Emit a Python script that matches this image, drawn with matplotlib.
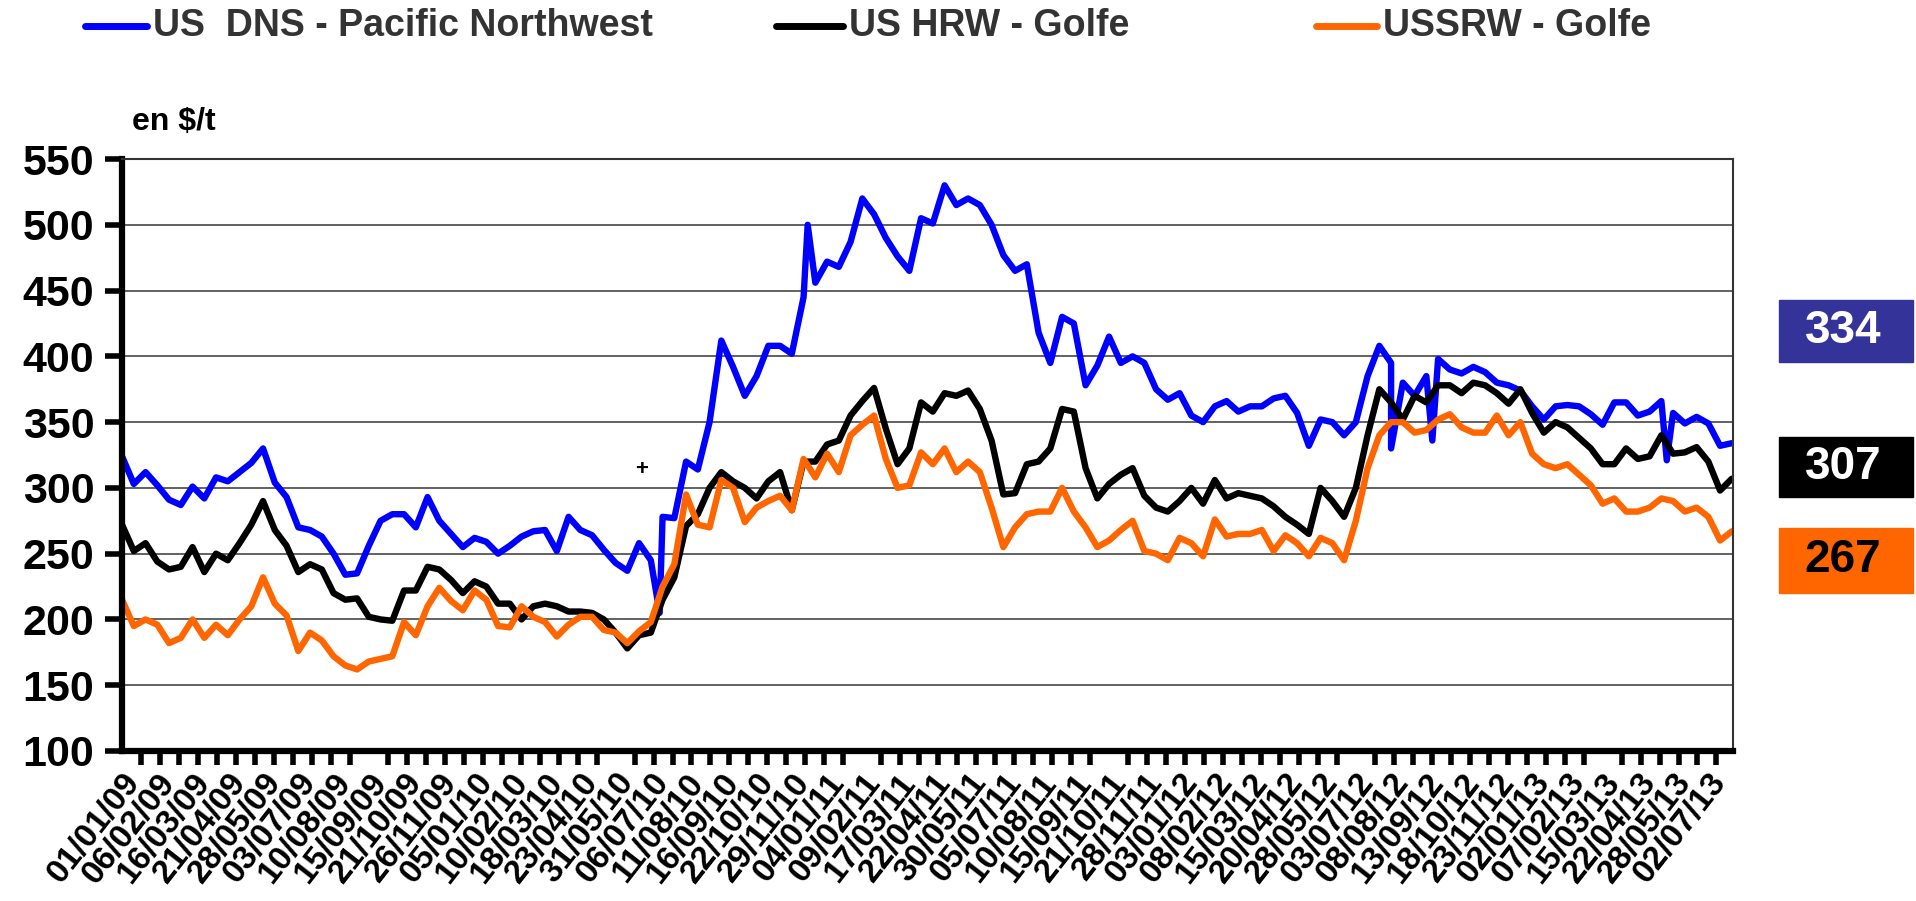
import numpy as np
import matplotlib.pyplot as plt
from matplotlib.lines import Line2D
from matplotlib.patches import Rectangle

plt.rcParams['font.family'] = ['Liberation Sans', 'DejaVu Sans']
plt.rcParams['font.weight'] = 'bold'

# tick labels (one every 26 quotes)
dates = ['01/01/09', '06/02/09', '16/03/09', '21/04/09', '28/05/09', '03/07/09',
         '10/08/09', '15/09/09', '21/10/09', '26/11/09', '05/01/10', '10/02/10',
         '18/03/10', '23/04/10', '31/05/10', '06/07/10', '11/08/10', '16/09/10',
         '22/10/10', '29/11/10', '04/01/11', '09/02/11', '17/03/11', '22/04/11',
         '30/05/11', '05/07/11', '10/08/11', '15/09/11', '21/10/11', '28/11/11',
         '03/01/12', '08/02/12', '15/03/12', '20/04/12', '28/05/12', '03/07/12',
         '08/08/12', '13/09/12', '18/10/12', '23/11/12', '02/01/13', '07/02/13',
         '15/03/13', '22/04/13', '28/05/13', '02/07/13']

# prices in $/t, read every third of a label interval
dns = [324, 303, 312, 302, 291, 287, 301, 292, 308, 305, 312, 319, 330, 304, 293, 270,
       268, 263, 250, 234, 235, 256, 275, 280, 280, 270, 293, 275, 265, 255, 262, 259,
       250, 256, 263, 267, 268, 252, 278, 268, 264, 253, 243, 237, 258, 245, 278, 277,
       320, 314, 350, 412, 392, 370, 385, 408, 408, 402, 445, 456, 472, 468, 487, 520,
       508, 490, 476, 465, 505, 501, 530, 515, 520, 515, 500, 477, 465, 470, 418, 395,
       430, 425, 378, 393, 415, 395, 400, 395, 375, 367, 372, 355, 350, 362, 366, 358,
       362, 362, 368, 370, 357, 332, 352, 350, 340, 350, 385, 408, 395, 380, 370, 385,
       398, 390, 387, 392, 388, 380, 378, 374, 362, 352, 362, 363, 362, 356, 348, 365,
       365, 355, 358, 366, 357, 349, 354, 349, 332, 334]
hrw = [272, 252, 258, 244, 238, 240, 255, 236, 250, 245, 258, 272, 290, 268, 256, 236,
       242, 238, 220, 215, 216, 202, 200, 199, 222, 222, 240, 238, 230, 220, 229, 225,
       212, 212, 200, 210, 212, 210, 206, 206, 205, 200, 190, 178, 188, 190, 215, 232,
       271, 280, 300, 312, 305, 300, 292, 305, 312, 283, 320, 320, 333, 336, 355, 366,
       376, 345, 318, 330, 365, 358, 372, 370, 374, 360, 336, 295, 296, 318, 320, 330,
       360, 358, 315, 292, 303, 310, 315, 294, 285, 282, 290, 300, 288, 306, 292, 296,
       294, 292, 286, 278, 272, 265, 300, 290, 278, 300, 340, 375, 365, 352, 370, 365,
       378, 378, 372, 380, 378, 372, 364, 375, 357, 342, 350, 346, 338, 330, 318, 318,
       330, 322, 324, 340, 326, 327, 331, 320, 298, 307]
srw = [215, 195, 200, 196, 182, 186, 200, 186, 196, 188, 200, 210, 232, 212, 203, 176,
       190, 184, 172, 165, 162, 168, 170, 172, 198, 188, 210, 224, 214, 207, 222, 215,
       195, 194, 210, 202, 198, 187, 196, 202, 202, 192, 190, 182, 191, 198, 225, 242,
       295, 272, 270, 306, 300, 274, 285, 290, 294, 283, 322, 308, 326, 312, 340, 348,
       355, 322, 300, 302, 327, 318, 330, 312, 320, 312, 285, 255, 270, 280, 282, 282,
       300, 282, 270, 255, 260, 268, 275, 252, 250, 245, 262, 258, 248, 276, 263, 265,
       265, 268, 252, 264, 258, 248, 262, 258, 245, 275, 315, 340, 350, 350, 342, 344,
       352, 356, 346, 342, 342, 355, 340, 350, 326, 318, 315, 318, 310, 302, 288, 292,
       282, 282, 285, 292, 290, 282, 285, 278, 260, 267]

# one-day spikes of the DNS quote (position in label intervals, price)
dns_spike_pos = [15.25, 19.45, 36.0, 37.17, 43.82]
dns_spike_val = [205, 500, 330, 336, 321]

last_values = [334, 307, 267]
names = ['US  DNS - Pacific Northwest', 'US HRW - Golfe', 'USSRW - Golfe']
colors = ['#0000FF', '#000000', '#FF6600']


def series(vals, spike_pos=(), spike_val=()):
    x = np.arange(len(vals)) / 3
    x = np.concatenate([x, spike_pos])
    y = np.concatenate([vals, spike_val])
    o = np.argsort(x)
    return x[o], y[o]


fig = plt.figure(figsize=(19.16, 9.01), dpi=100)
ax = fig.add_axes([0.0637, 0.1665, 0.8408, 0.657])

for vals, c, sp, sv in [(dns, colors[0], dns_spike_pos, dns_spike_val),
                        (hrw, colors[1], [], []),
                        (srw, colors[2], [], [])]:
    x, y = series(vals, sp, sv)
    ax.plot(x, y, color=c, lw=4.6, solid_joinstyle='round', solid_capstyle='round')

ax.set_xlim(0, 45.7)
ax.set_ylim(100, 550)
ax.set_yticks(range(100, 551, 50))
ax.yaxis.grid(True, color='#555555', lw=1.3)
ax.set_axisbelow(True)

ax.set_xticks(range(len(dates)))
ax.set_xticklabels(dates, rotation=52, ha='right', rotation_mode='anchor', fontsize=24)
ax.set_xticks(np.arange(0, 45.7, 14 / 26), minor=True)
ax.tick_params(axis='x', which='major', length=0, pad=12)
ax.tick_params(axis='x', which='minor', length=10, width=4, direction='out')
ax.tick_params(axis='y', length=12, width=4, direction='out', labelsize=31, pad=8)

for s in ['left', 'bottom']:
    ax.spines[s].set_linewidth(4.5)
    ax.spines[s].set_color('black')
for s in ['top', 'right']:
    ax.spines[s].set_linewidth(1.5)
    ax.spines[s].set_color('#333333')

ax.text(14.75, 314, '+', ha='center', va='center', fontsize=16)
fig.text(132 / 1916, 1 - 122 / 901, 'en $/t', fontsize=23, va='center')

# legend along the top
legend_x = [(85, 153), (776, 849), (1316, 1383)]
for (hx, tx), c, n in zip(legend_x, colors, names):
    fig.add_artist(Line2D([hx / 1916, (tx - 6) / 1916], [0.971, 0.971],
                          color=c, lw=5, solid_capstyle='round'))
    fig.text(tx / 1916, 0.971, n, fontsize=27, color='#333333', va='center')

# last value boxes
boxes = [(300, 362, '#333399', 'white'), (437, 497, '#000000', 'white'),
         (528, 593, '#FF6600', 'black')]
for (y0, y1, fc, tc), v in zip(boxes, last_values):
    fig.add_artist(Rectangle((1779 / 1916, 1 - y1 / 901), 134 / 1916, (y1 - y0) / 901,
                             transform=fig.transFigure, color=fc))
    fig.text(1843 / 1916, 1 - (y0 + y1) / 2 / 901, str(v), fontsize=33, color=tc,
             ha='center', va='center')

fig.savefig('out.png', dpi=100)
